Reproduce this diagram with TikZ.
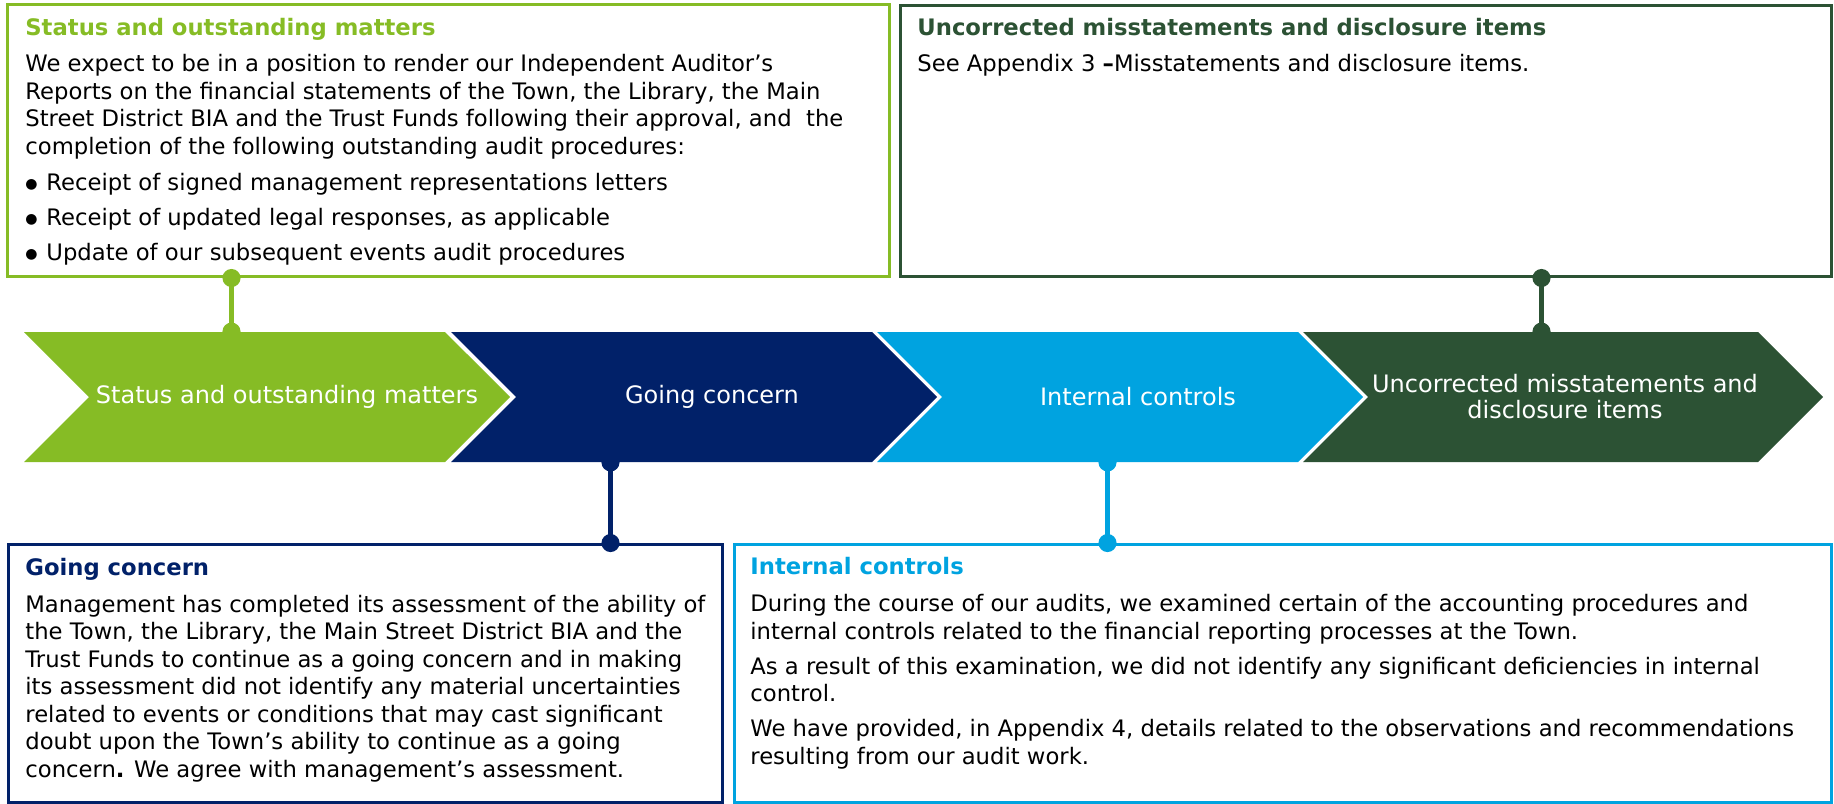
\documentclass[tikz,border=0pt]{standalone}
\usepackage{fontspec}
\setmainfont{DejaVu Sans}
\usetikzlibrary{arrows.meta,positioning,calc,shapes.symbols}
\definecolor{stgreen}{HTML}{86BC25}
\definecolor{gcnavy}{HTML}{012169}
\definecolor{icblue}{HTML}{00A3E0}
\definecolor{umgreen}{HTML}{2C5234}
\newcommand{\bul}{\makebox[10.5pt][l]{\raisebox{0.9pt}{\fontsize{7}{7}\selectfont ●}}}

\begin{document}
\begin{tikzpicture}[x=0.5pt,y=-0.5pt,
  infobox/.style={draw=#1,line width=1.5pt,anchor=north west,inner sep=0pt},
  infotext/.style={anchor=base west,inner sep=0pt,align=left,font=\fontsize{11.35}{13.75}\selectfont},
  chev/.style={signal,signal from=west,signal to=east,fill=#1,minimum height=65pt,minimum width=243pt,inner sep=0pt},
  chlabel/.style={text=white,align=center,font=\fontsize{12}{13}\selectfont},
  link/.style={draw=#1,line width=2.5pt,arrows={Circle[length=9pt]-Circle[length=9pt]},shorten <=-4.5pt,shorten >=-4.5pt}]
  \useasboundingbox (0,0) rectangle (1834,803);

  \node[infobox=stgreen,minimum width=441pt,minimum height=136pt] (boxStatus) at (6,3) {};
  \node[infobox=umgreen,minimum width=465.5pt,minimum height=135.5pt] (boxUncorr) at (899,4) {};
  \node[infobox=gcnavy,minimum width=357pt,minimum height=129pt] (boxGoing) at (7,543) {};
  \node[infobox=icblue,minimum width=548.5pt,minimum height=129pt] (boxInternal) at (733,543) {};

  % text nodes sit on the baseline of their last line
  \node[infotext] (txtStatus) at (25,260) {\textcolor{stgreen}{\bfseries Status and outstanding matters}\\[4.2pt]
    We expect to be in a position to render our Independent Auditor’s\\
    Reports on the financial statements of the Town, the Library, the Main\\
    Street District BIA and the Trust Funds following their approval, and~ the\\
    completion of the following outstanding audit procedures:\\[4.2pt]
    \bul Receipt of signed management representations letters\\[3.7pt]
    \bul Receipt of updated legal responses, as applicable\\[3.7pt]
    \bul Update of our subsequent events audit procedures};
  \node[infotext] (txtUncorr) at (917,71) {\textcolor{umgreen}{\bfseries Uncorrected misstatements and disclosure items}\\[4.2pt]
    See Appendix 3 \textbf{–}Misstatements and disclosure items.};
  \node[infotext] (txtGoing) at (25,777) {\textcolor{gcnavy}{\bfseries Going concern}\\[4.7pt]
    Management has completed its assessment of the ability of\\
    the Town, the Library, the Main Street District BIA and the\\
    Trust Funds to continue as a going concern and in making\\
    its assessment did not identify any material uncertainties\\
    related to events or conditions that may cast significant\\
    doubt upon the Town’s ability to continue as a going\\
    concern\textbf{.} We agree with management’s assessment.};
  \node[infotext] (txtInternal) at (750,764) {\textcolor{icblue}{\bfseries Internal controls}\\[4.7pt]
    During the course of our audits, we examined certain of the accounting procedures and\\
    internal controls related to the financial reporting processes at the Town.\\[3.7pt]
    As a result of this examination, we did not identify any significant deficiencies in internal\\
    control.\\[3.7pt]
    We have provided, in Appendix 4, details related to the observations and recommendations\\
    resulting from our audit work.};

  \node[chev=stgreen,label={[chlabel,xshift=10pt]center:Status and outstanding matters}] (chStatus) at (267,397) {};
  \node[chev=gcnavy,label={[chlabel,xshift=9pt]center:Going concern}] (chGoing) at (694,397) {};
  \node[chev=icblue,label={[chlabel,xshift=9pt]center:Internal controls}] (chInternal) at (1120,397) {};
  \node[chev=umgreen,minimum width=260pt,label={[chlabel,xshift=1pt]center:Uncorrected misstatements and\\disclosure items}] (chUncorr) at (1563,397) {};

  \draw[link=stgreen] ([xshift=-108.5pt]boxStatus.south) coordinate (s1) -- (s1 |- chStatus.north);
  \draw[link=umgreen] ([xshift=87.75pt]boxUncorr.south) coordinate (s2) -- (s2 |- chUncorr.north);
  \draw[link=gcnavy] ([xshift=122.5pt]boxGoing.north) coordinate (s3) -- (s3 |- chGoing.south);
  \draw[link=icblue] ([xshift=-87.75pt]boxInternal.north) coordinate (s4) -- (s4 |- chInternal.south);
\end{tikzpicture}
\end{document}
